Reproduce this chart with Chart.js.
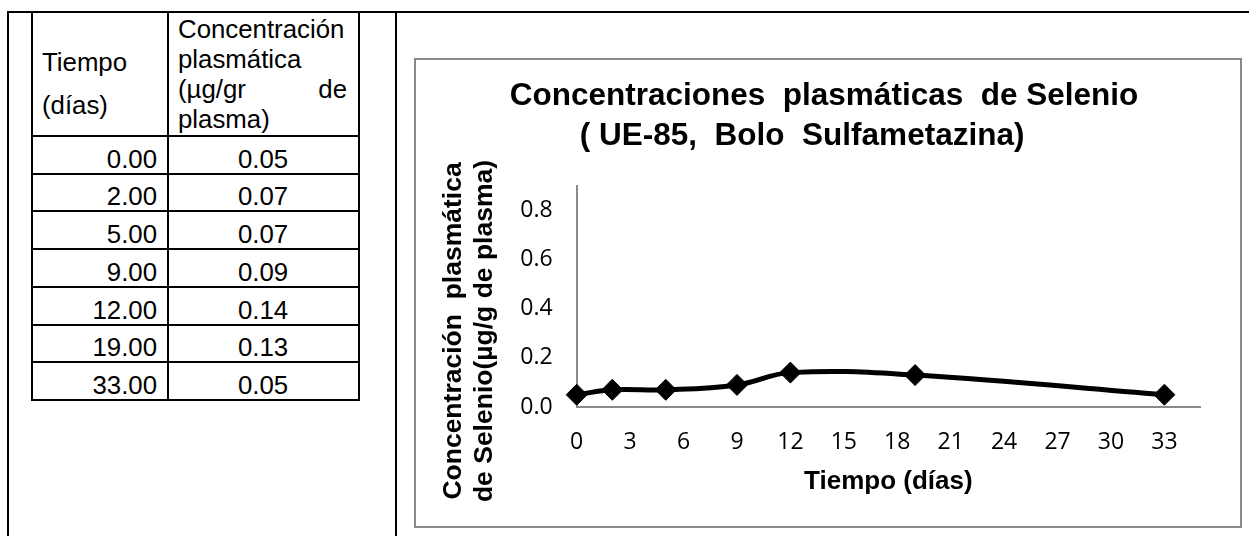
<!DOCTYPE html>
<html lang="es">
<head>
<meta charset="utf-8">
<title>Concentraciones plasmáticas de Selenio</title>
<script src="https://cdn.jsdelivr.net/npm/chart.js@4/dist/chart.umd.min.js"></script>
<style>
  html, body { margin: 0; padding: 0; background: #fff; }
  body { width: 1249px; height: 536px; position: relative; overflow: hidden;
         font-family: "Liberation Sans", Arial, sans-serif; color: #000; }
  .ln { position: absolute; background: #000; }
  .t  { position: absolute; font-size: 25.8px; line-height: 26px; white-space: nowrap; }
  #box { position: absolute; left: 414px; top: 58px; width: 828px; height: 470px; }
  #box canvas { position: absolute; left: 0; top: 0; }
  #frame { position: absolute; left: 414px; top: 58px; width: 828px; height: 470px;
           box-sizing: border-box; border: 2px solid #8a8a8a; pointer-events: none; }
</style>
</head>
<body>
<div id="sheet"></div>
<div id="box"><canvas id="chart" width="828" height="470"></canvas></div>
<div id="frame"></div>
<script>
// Datos: tiempo de muestreo y concentración plasmática de selenio
const dias = [0, 2, 5, 9, 12, 19, 33];
const concentracion = [0.05, 0.07, 0.07, 0.09, 0.14, 0.13, 0.05];

// Marcas de los ejes
const ticksX = [0, 3, 6, 9, 12, 15, 18, 21, 24, 27, 30, 33];
const ticksY = [0.0, 0.2, 0.4, 0.6, 0.8];

// Textos
const tituloGrafico = ['Concentraciones  plasmáticas  de Selenio', '( UE-85,  Bolo  Sulfametazina)     '];
const tituloEjeX = 'Tiempo (días)';
const tituloEjeY = ['Concentración  plasmática', 'de Selenio(µg/g de plasma)'];
const encabezadoTiempo = ['Tiempo', '(días)'];
const encabezadoConc = ['Concentración', 'plasmática', ['(µg/gr', 'de'], 'plasma)'];

// ---------- Tabla ----------
const sheet = document.getElementById('sheet');
function line(x, y, w, h) {
  const d = document.createElement('div');
  d.className = 'ln';
  Object.assign(d.style, { left: x + 'px', top: y + 'px', width: w + 'px', height: h + 'px' });
  sheet.appendChild(d);
}
// texto colocado por su línea base (Liberation Sans: ascenso 0.905 em, descenso 0.212 em)
function text(str, x, baseline, align) {
  const d = document.createElement('div');
  d.className = 't';
  d.textContent = str;
  const fs = 25.8, lh = 26;
  const top = baseline - ((lh - 1.117 * fs) / 2 + 0.905 * fs);
  d.style.top = top + 'px';
  if (align === 'right') { d.style.right = (1249 - x) + 'px'; }
  else if (align === 'center') { d.style.left = (x - 100) + 'px'; d.style.width = '200px'; d.style.textAlign = 'center'; }
  else { d.style.left = x + 'px'; }
  sheet.appendChild(d);
}

// marco exterior
line(7, 11, 1242, 2);
line(7, 11, 2, 525);
line(395, 11, 2, 525);

// rejilla de la tabla
const filaAlto = 37.7;
const cabeceraBase = 135;
const nFilas = dias.length;
const bordeInferior = Math.round(cabeceraBase + filaAlto * nFilas);
[31, 167, 358].forEach(x => line(x, 11, 2, bordeInferior + 2 - 11));
for (let k = 0; k <= nFilas; k++) {
  line(31, Math.round(cabeceraBase + filaAlto * k), 329, 2);
}

// encabezados
text(encabezadoTiempo[0], 42, 71, 'left');
text(encabezadoTiempo[1], 42, 114, 'left');
encabezadoConc.forEach((l, i) => {
  const b = 38 + i * 30;
  if (Array.isArray(l)) {
    text(l[0], 178, b, 'left');
    text(l[1], 347, b, 'right');
  } else {
    text(l, 178, b, 'left');
  }
});

// filas de datos
dias.forEach((d, i) => {
  const b = Math.round(cabeceraBase + filaAlto * (i + 1)) - 4.7;
  text(d.toFixed(2), 157, b, 'right');
  text(concentracion[i].toFixed(2), 263, b, 'center');
});

// ---------- Gráfico ----------
const negro = '#000';
const gris = '#8a8a8a';
const fuenteEtiquetas = { family: '"Open Sans", "Liberation Sans", sans-serif', size: 23 };

const tituloEjeYPlugin = {
  id: 'tituloEjeY',
  afterDraw(chart) {
    const ctx = chart.ctx;
    ctx.save();
    ctx.font = 'bold 26.5px "Liberation Sans", Arial, sans-serif';
    ctx.fillStyle = negro;
    ctx.textAlign = 'center';
    ctx.textBaseline = 'alphabetic';
    const centroY = 273;
    const bases = [47, 78];
    tituloEjeY.forEach((t, i) => {
      ctx.save();
      ctx.translate(bases[i], centroY);
      ctx.rotate(-Math.PI / 2);
      ctx.fillText(t, 0, 0);
      ctx.restore();
    });
    ctx.restore();
  }
};

new Chart(document.getElementById('chart'), {
  type: 'line',
  data: {
    datasets: [{
      data: dias.map((d, i) => ({ x: d, y: concentracion[i] })),
      borderColor: negro,
      backgroundColor: negro,
      borderWidth: 5,
      tension: 0.4,
      fill: false,
      clip: false,
      pointStyle: 'rectRot',
      pointRadius: 10.5,
      pointBorderWidth: 1,
      pointBackgroundColor: negro,
      pointBorderColor: negro
    }]
  },
  options: {
    responsive: false,
    animation: false,
    events: [],
    layout: { padding: { left: 34, right: 42, top: 0, bottom: 0 } },
    plugins: {
      legend: { display: false },
      tooltip: { enabled: false },
      title: {
        display: true,
        text: tituloGrafico,
        color: negro,
        font: { family: '"Liberation Sans", Arial, sans-serif', size: 31.5, weight: 'bold', lineHeight: 1.27 },
        padding: { top: 18.5, bottom: 29.5 }
      }
    },
    scales: {
      x: {
        type: 'linear',
        min: 0,
        max: 35,
        afterBuildTicks: s => { s.ticks = ticksX.map(v => ({ value: v })); },
        afterFit: s => { s.height = 121; },
        grid: { display: false, drawTicks: false },
        border: { display: true, color: gris, width: 2 },
        ticks: { color: negro, font: fuenteEtiquetas, padding: 21.5, maxRotation: 0, autoSkip: false,
                 callback: v => String(v) },
        title: {
          display: true,
          text: tituloEjeX,
          color: negro,
          font: { family: '"Liberation Sans", Arial, sans-serif', size: 26, weight: 'bold', lineHeight: 1.2 },
          padding: { top: 0, bottom: 30.5 }
        }
      },
      y: {
        type: 'linear',
        min: 0,
        max: 0.9,
        afterBuildTicks: s => { s.ticks = ticksY.map(v => ({ value: v })); },
        afterFit: s => { s.width = 128.7; },
        grid: { display: false, drawTicks: false },
        border: { display: true, color: gris, width: 2 },
        ticks: { color: negro, font: fuenteEtiquetas, padding: 24, callback: v => v.toFixed(1) },
        title: { display: false }
      }
    }
  },
  plugins: [tituloEjeYPlugin]
});
</script>
</body>
</html>
